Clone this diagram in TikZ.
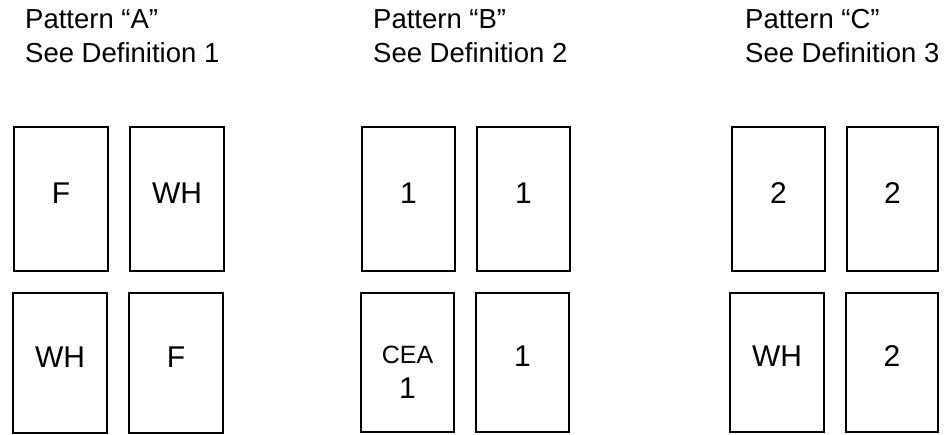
\documentclass[tikz,border=0pt]{standalone}
\usepackage{fontspec}
\setmainfont{Liberation Sans}
\begin{document}
\begin{tikzpicture}[x=1pt,y=-1pt,
  tile/.style={draw=black,line width=1.8pt,inner sep=0pt,fill=none},
  lbl/.style={anchor=base,inner sep=0pt,font=\fontsize{30}{30}\selectfont},
  small/.style={anchor=base,inner sep=0pt,font=\fontsize{25}{25}\selectfont},
  title/.style={anchor=base west,inner sep=0pt,font=\fontsize{27.5}{34}\selectfont}]
\useasboundingbox (0,0) rectangle (945,434);
% titles
\node[title] (tA1) at (25,28) {Pattern “A”};
\node[title] (tA2) at (25,62) {See Definition 1};
\node[title] (tB1) at (373,28) {Pattern “B”};
\node[title] (tB2) at (373,62) {See Definition 2};
\node[title] (tC1) at (745,28) {Pattern “C”};
\node[title] (tC2) at (745,62) {See Definition 3};
% Pattern A
\node[tile] (a1) at (61,199) [minimum width=94pt,minimum height=144pt] {};
\node[tile] (a2) at (177,199) [minimum width=94pt,minimum height=144pt] {};
\node[tile] (a3) at (60,363) [minimum width=94pt,minimum height=140pt] {};
\node[tile] (a4) at (176,363) [minimum width=94pt,minimum height=140pt] {};
\node[lbl] (a1t) at ([yshift=-4pt]a1.center) {F};
\node[lbl] (a2t) at ([yshift=-4pt]a2.center) {WH};
\node[lbl] (a3t) at ([yshift=-4pt]a3.center) {WH};
\node[lbl] (a4t) at ([yshift=-4pt]a4.center) {F};
% Pattern B
\node[tile] (b1) at (408.5,199) [minimum width=93pt,minimum height=144pt] {};
\node[tile] (b2) at (523.5,199) [minimum width=93pt,minimum height=144pt] {};
\node[tile] (b3) at (407.5,362.5) [minimum width=93pt,minimum height=139pt] {};
\node[tile] (b4) at (522.5,362.5) [minimum width=93pt,minimum height=139pt] {};
\node[lbl] (b1t) at ([yshift=-4pt]b1.center) {1};
\node[lbl] (b2t) at ([yshift=-4pt]b2.center) {1};
\node[small] (b3t) at ([yshift=-0.5pt]b3.center) {CEA};
\node[lbl] (b3u) at ([yshift=-35.5pt]b3.center) {1};
\node[lbl] (b4t) at ([yshift=-4pt]b4.center) {1};
% Pattern C
\node[tile] (c1) at (778.5,199) [minimum width=93pt,minimum height=144pt] {};
\node[tile] (c2) at (892.5,199) [minimum width=91pt,minimum height=144pt] {};
\node[tile] (c3) at (777,362.5) [minimum width=94pt,minimum height=139pt] {};
\node[tile] (c4) at (892,362.5) [minimum width=92pt,minimum height=139pt] {};
\node[lbl] (c1t) at ([yshift=-4pt]c1.center) {2};
\node[lbl] (c2t) at ([yshift=-4pt]c2.center) {2};
\node[lbl] (c3t) at ([yshift=-4pt]c3.center) {WH};
\node[lbl] (c4t) at ([yshift=-4pt]c4.center) {2};
\end{tikzpicture}
\end{document}
